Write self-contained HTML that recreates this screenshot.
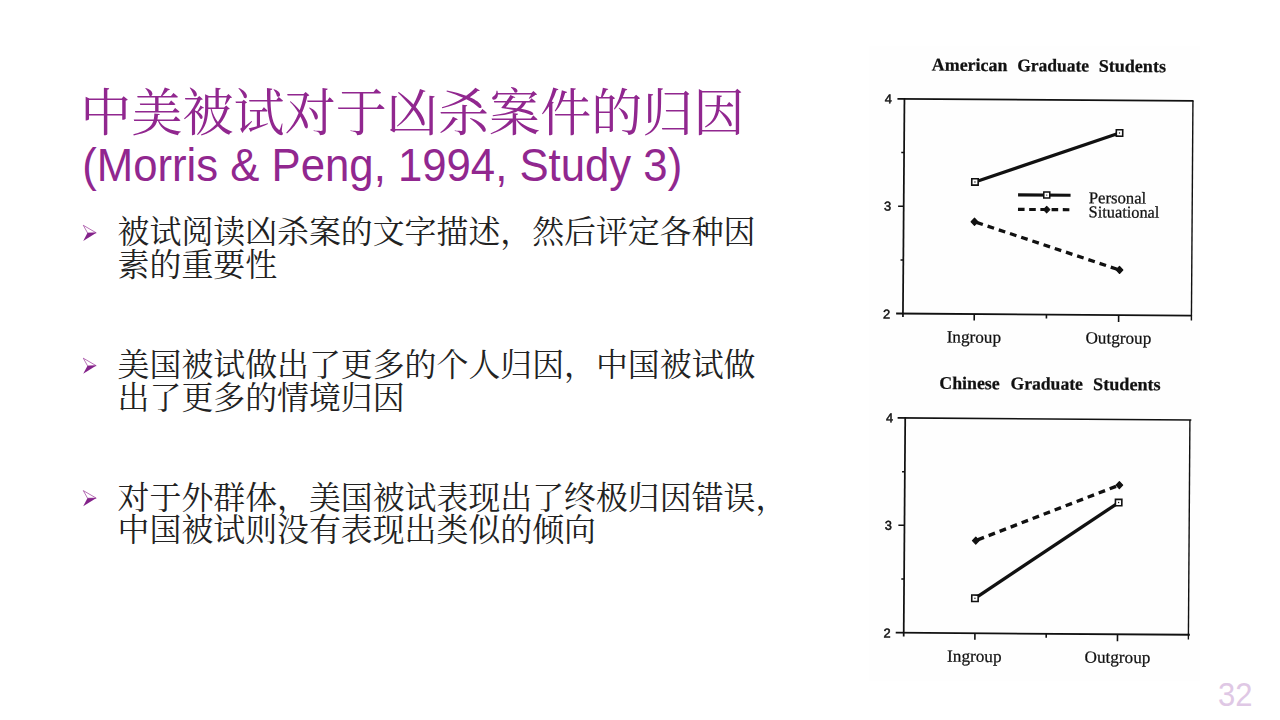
<!DOCTYPE html>
<html lang="zh-CN">
<head>
<meta charset="utf-8">
<title>中美被试对于凶杀案件的归因 (Morris &amp; Peng, 1994, Study 3)</title>
<style>
html,body{margin:0;padding:0;background:#fff}
body{width:1280px;height:720px;overflow:hidden;font-family:"Liberation Sans",sans-serif}
.slide{position:relative;width:1280px;height:720px;background:#fff;overflow:hidden}
.ink{position:absolute;left:0;top:0;pointer-events:none}
/* real text layer : kept inline for semantics, painted by the SVG text above */
.txt{color:transparent;font-family:"Liberation Sans","Noto Serif CJK SC",sans-serif}
h1.txt{position:absolute;left:82px;top:82px;margin:0;font-weight:400;font-size:51px;line-height:50px;white-space:nowrap}
ul.txt{position:absolute;left:83px;top:214px;margin:0;padding:0;list-style:none;font-size:32px;line-height:32.6px;width:690px}
ul.txt li{padding-left:35px;height:132.5px;box-sizing:border-box;white-space:nowrap}
.pn{position:absolute;left:1218px;top:676px;font-size:37px;line-height:37px}
.fig{position:absolute;left:869px;top:46px;width:331px;height:635px;margin:0;background:#fefefe;overflow:hidden}
.fig svg{position:absolute;left:-869px;top:-46px;filter:blur(0.35px)}
.fig text{font-family:"Liberation Serif",serif;fill:#111;stroke:#111;stroke-width:0.25px;text-rendering:geometricPrecision}
.fig .ax text{font-family:"Liberation Sans",sans-serif;stroke-width:0.5px}
.ink text{font-family:"Liberation Serif","Noto Serif CJK SC",serif}
.ink text.lat{font-family:"Liberation Sans",sans-serif}
</style>
</head>
<body>
<div class="slide">
<h1 class="txt">中美被试对于凶杀案件的归因<br>(Morris &amp; Peng, 1994, Study 3)</h1>
<ul class="txt">
<li>被试阅读凶杀案的文字描述，然后评定各种因<br>素的重要性</li>
<li>美国被试做出了更多的个人归因，中国被试做<br>出了更多的情境归因</li>
<li>对于外群体，美国被试表现出了终极归因错误，<br>中国被试则没有表现出类似的倾向</li>
</ul>
<div class="txt pn">32</div>
<figure class="fig">
<svg width="1280" height="720" viewBox="0 0 1280 720">
<g transform="rotate(0.4 1038 364)" stroke-linecap="butt">
<!-- ===== chart 1 : American ===== -->
<g font-size="17.8" font-weight="700"><text x="929.8" y="71.3" textLength="75.5" lengthAdjust="spacingAndGlyphs">American</text><text x="1015.1" y="71.3" textLength="71.9" lengthAdjust="spacingAndGlyphs">Graduate</text><text x="1096.7" y="71.3" textLength="67.2" lengthAdjust="spacingAndGlyphs">Students</text></g>
<g fill="none" stroke="#111">
<path d="M895.6 99.8 H1191.7" stroke-width="1.65"/>
<path d="M902.6 99 V318" stroke-width="1.75"/>
<path d="M895.8 314.5 H1191.7" stroke-width="1.8"/>
<path d="M1191.1 99.8 V319.5" stroke-width="1.4"/>
<path d="M897 207.2 H902.6 M899.8 153.4 H902.6 M899.8 260.9 H902.6" stroke-width="1.5"/>
<path d="M973.9 314.5 V321 M1118.3 314.5 V321.5 M1046.1 314.5 V318.5" stroke-width="1.6"/>
</g>
<g class="ax" font-size="12.8" text-anchor="middle" stroke="#111" stroke-width="0.55">
<text x="886.6" y="104.3">4</text><text x="886.5" y="211.7">3</text><text x="886.3" y="319.5">2</text>
</g>
<path d="M973.7 182.4 L1117.9 132.4" stroke="#111" stroke-width="3.3" fill="none"/>
<path d="M973.5 222.2 L1118.8 269.4" stroke="#111" stroke-width="3.3" fill="none" stroke-dasharray="6.8 5" stroke-dashoffset="-2"/>
<g fill="#fff" stroke="#111" stroke-width="1.6">
<rect x="970.5" y="179.2" width="6.4" height="6.4"/><rect x="1114.7" y="129.2" width="6.4" height="6.4"/>
</g>
<g fill="#111"><circle cx="973.7" cy="182.4" r="0.7"/><circle cx="1117.9" cy="132.4" r="0.7"/>
<path d="M973.5 218.7 L976.8 222.2 L973.5 225.7 L970.2 222.2 Z M1118.8 265.9 L1122.1 269.4 L1118.8 272.9 L1115.5 269.4 Z" stroke="#111" stroke-width="1.2" stroke-linejoin="round"/></g>
<!-- legend -->
<path d="M1016.9 195 H1069.4" stroke="#111" stroke-width="3.1" fill="none"/>
<path d="M1016.9 209.5 H1069.4" stroke="#111" stroke-width="3.1" fill="none" stroke-dasharray="6.6 4.6"/>
<rect x="1042.6" y="192" width="6" height="6" fill="#fff" stroke="#111" stroke-width="1.5"/><circle cx="1045.6" cy="195" r="0.6" fill="#111"/>
<path d="M1045.6 206.2 L1048.8 209.5 L1045.6 212.8 L1042.4 209.5 Z" fill="#111" stroke="#111" stroke-width="1" stroke-linejoin="round"/>
<text x="1087.6" y="202.8" font-size="16.6" textLength="57.5" lengthAdjust="spacingAndGlyphs">Personal</text>
<text x="1087.6" y="217" font-size="16.6" textLength="70.8" lengthAdjust="spacingAndGlyphs">Situational</text>
<text x="973.7" y="343.1" font-size="17.2" text-anchor="middle">Ingroup</text>
<text x="1118.2" y="343.1" font-size="17.2" text-anchor="middle">Outgroup</text>

<!-- ===== chart 2 : Chinese ===== -->
<g font-size="17.8" font-weight="700"><text x="939.5" y="389.5" textLength="60.3" lengthAdjust="spacingAndGlyphs">Chinese</text><text x="1010.6" y="389.5" textLength="72.5" lengthAdjust="spacingAndGlyphs">Graduate</text><text x="1093.3" y="389.5" textLength="67.5" lengthAdjust="spacingAndGlyphs">Students</text></g>
<g fill="none" stroke="#111">
<path d="M898 418.9 H1191.7" stroke-width="1.65"/>
<path d="M905.6 418.1 V637.5" stroke-width="1.75"/>
<path d="M897.6 633.7 H1191.7" stroke-width="1.8"/>
<path d="M1190.3 418.9 V638.5" stroke-width="1.4"/>
<path d="M899.5 526.3 H905.6 M902.8 472.6 H905.6 M902.8 580 H905.6" stroke-width="1.5"/>
<path d="M976.8 633.7 V640.3 M1119.4 633.7 V640.8 M1048.1 633.7 V637.7" stroke-width="1.6"/>
</g>
<g class="ax" font-size="12.8" text-anchor="middle" stroke="#111" stroke-width="0.55">
<text x="890" y="423.4">4</text><text x="889.5" y="530.8">3</text><text x="888.9" y="638.5">2</text>
</g>
<path d="M976.6 598.7 L1119.6 502" stroke="#111" stroke-width="3.3" fill="none"/>
<path d="M977 541 L1120.2 484.5" stroke="#111" stroke-width="3.3" fill="none" stroke-dasharray="6.8 5" stroke-dashoffset="-2"/>
<g fill="#fff" stroke="#111" stroke-width="1.6">
<rect x="973.4" y="595.5" width="6.4" height="6.4"/><rect x="1116.4" y="498.8" width="6.4" height="6.4"/>
</g>
<g fill="#111"><circle cx="976.6" cy="598.7" r="0.7"/><circle cx="1119.6" cy="502" r="0.7"/>
<path d="M977.0 537.5 L980.3 541.0 L977.0 544.5 L973.7 541.0 Z M1120.2 481.0 L1123.5 484.5 L1120.2 488.0 L1116.9 484.5 Z" stroke="#111" stroke-width="1.2" stroke-linejoin="round"/></g>
<text x="976.4" y="662.3" font-size="17.2" text-anchor="middle">Ingroup</text>
<text x="1119.5" y="662.3" font-size="17.2" text-anchor="middle">Outgroup</text>
</g>
</svg>

</figure>
<svg class="ink" width="1280" height="720" viewBox="0 0 1280 720" aria-hidden="true">
<g fill="#91278f">
<text x="80.3" y="130.6" font-size="51.1">中美被试对于凶杀案件的归因</text>
<text class="lat" x="82.2" y="180.7" font-size="46" textLength="600" lengthAdjust="spacingAndGlyphs">(Morris &amp; Peng, 1994, Study 3)</text>
</g>
<g fill="#222222" font-size="31.9">
<text x="117.6" y="243.4">被试阅读凶杀案的文字描述，然后评定各种因</text>
<text x="117.6" y="276">素的重要性</text>
<text x="117.6" y="376.2">美国被试做出了更多的个人归因，中国被试做</text>
<text x="117.6" y="408.8">出了更多的情境归因</text>
<text x="117.6" y="508.6">对于外群体，美国被试表现出了终极归因错误，</text>
<text x="117.6" y="541.2">中国被试则没有表现出类似的倾向</text>
</g>
<g transform="translate(0 233.0)"><path d="M83.3 -7.7 L96.2 -0.2 L87.6 0 Z" fill="#fff" stroke="#91278f" stroke-width="0.65" stroke-linejoin="round"/><path d="M87.4 0 L96.4 -0.3 L83.2 7.9 Z" fill="#83228a"/></g>
<g transform="translate(0 365.9)"><path d="M83.3 -7.7 L96.2 -0.2 L87.6 0 Z" fill="#fff" stroke="#91278f" stroke-width="0.65" stroke-linejoin="round"/><path d="M87.4 0 L96.4 -0.3 L83.2 7.9 Z" fill="#83228a"/></g>
<g transform="translate(0 498.3)"><path d="M83.3 -7.7 L96.2 -0.2 L87.6 0 Z" fill="#fff" stroke="#91278f" stroke-width="0.65" stroke-linejoin="round"/><path d="M87.4 0 L96.4 -0.3 L83.2 7.9 Z" fill="#83228a"/></g>
<text class="lat" x="1218" y="706.1" font-size="34" fill="#dfc8e5" textLength="34.5" lengthAdjust="spacingAndGlyphs">32</text>
</svg>
</div>
</body>
</html>
